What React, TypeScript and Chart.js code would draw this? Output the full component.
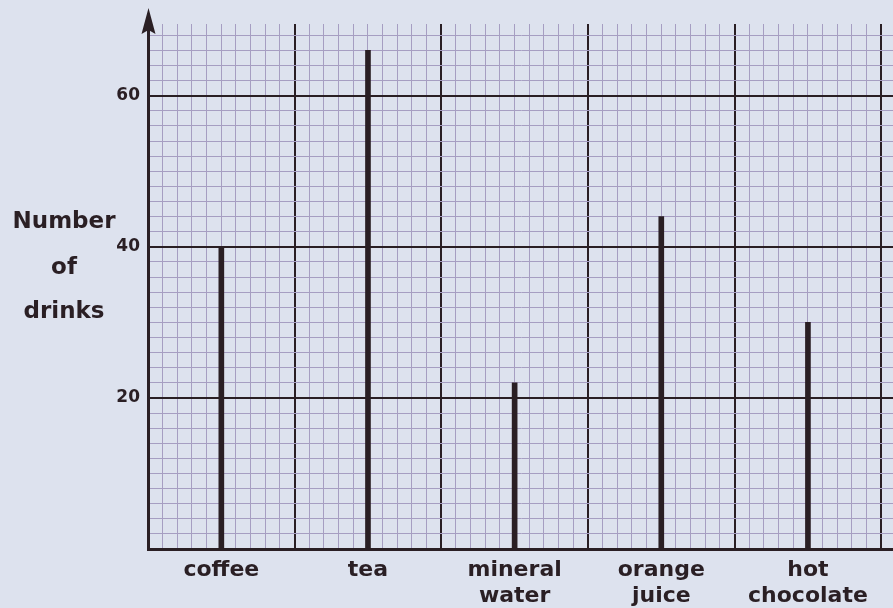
import { useEffect, useRef } from "react";
import { Chart, registerables } from "chart.js";
Chart.register(...registerables);

const categories: string[][] = [
  ["coffee"],
  ["tea"],
  ["mineral", "water"],
  ["orange", "juice"],
  ["hot", "chocolate"],
];
const drinks = [40, 66, 22, 44, 30];
const yTickLabels = [20, 40, 60];
const yTitle = ["Number", "of", "drinks"];

const INK = "#2a1f24";
const MINOR = "#a69ec2";
const PAPER = "#dde2ee";
const FONT = "'DejaVu Sans', 'Open Sans', sans-serif";

export default function App() {
  const ref = useRef<HTMLCanvasElement | null>(null);

  useEffect(() => {
    if (!ref.current) return;
    const near = (v: number, t: number) => Math.abs(v - t) < 1e-6;
    const tickVal = (ctx: any) => (ctx && ctx.tick ? Number(ctx.tick.value) : NaN);
    const xMajor = (ctx: any) => {
      const v = tickVal(ctx);
      return !isNaN(v) && near(v, Math.round(v));
    };
    const yMajor = (ctx: any) => {
      const v = tickVal(ctx);
      return !isNaN(v) && near(v / 20, Math.round(v / 20));
    };

    const decor = {
      id: "decor",
      beforeDraw(chart: any) {
        const c = chart.ctx;
        c.save();
        c.fillStyle = PAPER;
        c.fillRect(0, 0, chart.width, chart.height);
        c.restore();
      },
      afterDraw(chart: any) {
        const c = chart.ctx;
        const { left, top } = chart.chartArea;
        c.save();
        c.strokeStyle = INK;
        c.fillStyle = INK;
        c.lineWidth = 3;
        c.beginPath();
        c.moveTo(left, top + 2);
        c.lineTo(left, 20);
        c.stroke();
        c.beginPath();
        c.moveTo(left + 0.5, 8);
        c.lineTo(left - 6.5, 34);
        c.lineTo(left + 0.5, 30);
        c.lineTo(left + 7.5, 34);
        c.closePath();
        c.fill();
        c.font = `bold 23px ${FONT}`;
        c.textAlign = "center";
        c.textBaseline = "middle";
        c.fillStyle = INK;
        const ys = [222, 268, 312];
        yTitle.forEach((t, i) => c.fillText(t, 64, ys[i]));
        c.restore();
      },
    };

    const chart = new Chart(ref.current, {
      type: "bar",
      data: {
        datasets: [
          {
            data: categories.map((_, i) => ({ x: i + 0.5, y: drinks[i] })),
            backgroundColor: INK,
            barThickness: 5,
          } as any,
        ],
      },
      options: {
        animation: false,
        responsive: false,
        maintainAspectRatio: false,
        layout: { padding: { top: 24, left: 0, right: 0, bottom: 0 } },
        plugins: { legend: { display: false }, tooltip: { enabled: false }, title: { display: false } },
        scales: {
          x: {
            type: "linear",
            min: 0,
            max: 5.08,
            offset: false,
            afterFit: (s: any) => {
              s.height = 59;
            },
            ticks: {
              stepSize: 0.1,
              includeBounds: false,
              autoSkip: false,
              maxRotation: 0,
              minRotation: 0,
              padding: 8,
              color: INK,
              font: { family: FONT, size: 22, weight: "bold", lineHeight: 1.2 },
              callback: (value: any) => {
                const k = Number(value) - 0.5;
                const i = Math.round(k);
                if (near(k, i) && i >= 0 && i < categories.length) return categories[i];
                return "";
              },
            },
            grid: {
              offset: false,
              drawTicks: false,
              color: (ctx: any) => (xMajor(ctx) ? INK : MINOR),
              lineWidth: (ctx: any) => (xMajor(ctx) ? 2 : 1),
            },
            border: { color: INK, width: 3 },
          } as any,
          y: {
            min: 0,
            max: 69.5,
            afterFit: (s: any) => {
              s.width = 148;
            },
            ticks: {
              stepSize: 2,
              includeBounds: false,
              autoSkip: false,
              padding: 8,
              color: INK,
              font: { family: FONT, size: 17, weight: "bold" },
              callback: (value: any) => (yTickLabels.includes(Number(value)) ? String(value) : ""),
            },
            grid: {
              drawTicks: false,
              color: (ctx: any) => (yMajor(ctx) ? INK : MINOR),
              lineWidth: (ctx: any) => (yMajor(ctx) ? 2 : 1),
            },
            border: { color: INK, width: 3 },
          } as any,
        },
      },
      plugins: [decor],
    });
    return () => chart.destroy();
  }, []);

  return (
    <div style={{ position: "fixed", left: 0, top: 0, width: 893, height: 608, background: PAPER }}>
      <canvas ref={ref} width={893} height={608} />
    </div>
  );
}
